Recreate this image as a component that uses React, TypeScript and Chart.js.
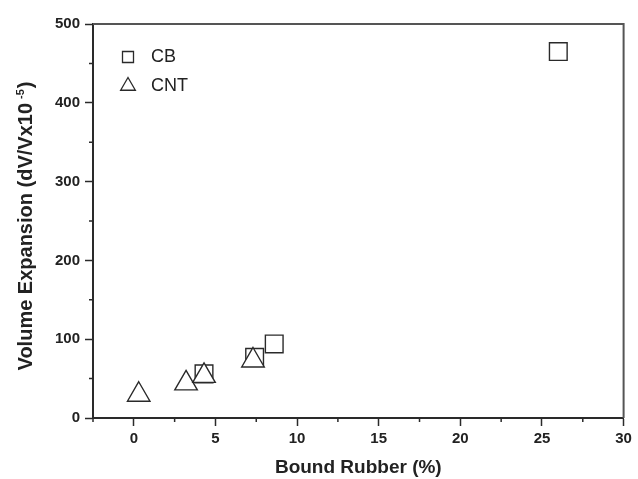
import React, { useEffect, useRef } from "react";
import { Chart, registerables } from "chart.js";

Chart.register(...registerables);

const cbX = [4.3, 7.4, 8.6, 26.0];
const cbY = [56, 77, 94, 465];
const cntX = [0.3, 3.2, 4.3, 7.3];
const cntY = [29.5, 44, 53.5, 73];

const xMajorTicks = [0, 5, 10, 15, 20, 25, 30];
const xMinorTicks = [-2.5, 2.5, 7.5, 12.5, 17.5, 22.5, 27.5];
const yMajorTicks = [0, 100, 200, 300, 400, 500];
const yMinorTicks = [50, 150, 250, 350, 450];

const legendLabels = ["CB", "CNT"];
const xTitle = "Bound Rubber (%)";
const yTitleMain = "Volume Expansion (dV/Vx10";
const yTitleSup = "-5";
const yTitleEnd = ")";

const FONT = "'Liberation Sans', Arial, sans-serif";
const INK = "#2a2a2a";

const framePlugin = {
  id: "frame",
  afterDraw(chart: any) {
    const { ctx, chartArea } = chart;
    const { left, right, top, bottom } = chartArea;
    ctx.save();
    ctx.strokeStyle = "#555";
    ctx.lineWidth = 2;
    ctx.beginPath();
    ctx.moveTo(left, top);
    ctx.lineTo(right, top);
    ctx.lineTo(right, bottom);
    ctx.stroke();
    // minor ticks
    ctx.strokeStyle = INK;
    ctx.lineWidth = 1.5;
    const xs = chart.scales.x;
    const ys = chart.scales.y;
    ctx.beginPath();
    xMinorTicks.forEach((v) => {
      const px = xs.getPixelForValue(v);
      ctx.moveTo(px, bottom);
      ctx.lineTo(px, bottom + 4);
    });
    yMinorTicks.forEach((v) => {
      const py = ys.getPixelForValue(v);
      ctx.moveTo(left, py);
      ctx.lineTo(left - 4, py);
    });
    ctx.stroke();
    // x tick labels
    ctx.fillStyle = "#222";
    ctx.font = `bold 15px ${FONT}`;
    ctx.textAlign = "center";
    ctx.textBaseline = "top";
    xMajorTicks.forEach((v) => {
      ctx.fillText(String(v), xs.getPixelForValue(v), bottom + 13);
    });
    // legend
    const lx = left + 35;
    ctx.strokeStyle = INK;
    ctx.lineWidth = 1.3;
    ctx.fillStyle = "#fff";
    const y1 = top + 33;
    const y2 = top + 62;
    ctx.beginPath();
    ctx.rect(lx - 5.5, y1 - 5.5, 11, 11);
    ctx.fill();
    ctx.stroke();
    const r = 8.5;
    ctx.beginPath();
    ctx.moveTo(lx, y2 - r);
    ctx.lineTo(lx + r * 0.866, y2 + r * 0.5);
    ctx.lineTo(lx - r * 0.866, y2 + r * 0.5);
    ctx.closePath();
    ctx.fill();
    ctx.stroke();
    ctx.fillStyle = "#222";
    ctx.font = `18px ${FONT}`;
    ctx.textBaseline = "middle";
    ctx.textAlign = "left";
    ctx.fillText(legendLabels[0], lx + 23, y1);
    ctx.fillText(legendLabels[1], lx + 23, y2);

    // y title with superscript
    const mainFont = `bold 20px ${FONT}`;
    const supFont = `bold 11px ${FONT}`;
    ctx.font = mainFont;
    const w1 = ctx.measureText(yTitleMain).width;
    const w3 = ctx.measureText(yTitleEnd).width;
    ctx.font = supFont;
    const gap = 4;
    const w2 = ctx.measureText(yTitleSup).width;
    const total = w1 + gap + w2 + 1 + w3;
    const cy = (top + bottom) / 2 + 5;
    ctx.translate(25, cy);
    ctx.rotate(-Math.PI / 2);
    ctx.textBaseline = "alphabetic";
    const base = 7;
    let x = -total / 2;
    ctx.font = mainFont;
    ctx.fillText(yTitleMain, x, base);
    x += w1 + gap;
    ctx.font = supFont;
    ctx.fillText(yTitleSup, x, base - 8);
    x += w2 + 1;
    ctx.font = mainFont;
    ctx.fillText(yTitleEnd, x, base);
    ctx.restore();
  },
};

export default function App() {
  const ref = useRef<HTMLCanvasElement>(null);
  useEffect(() => {
    document.body.style.margin = "0";
    const canvas = ref.current!;
    const chart = new Chart(canvas, {
      type: "scatter",
      data: {
        datasets: [
          {
            label: legendLabels[0],
            data: cbX.map((x, i) => ({ x, y: cbY[i] })),
            pointStyle: "rect",
            pointRadius: 12.5,
            pointHoverRadius: 12.5,
            borderColor: INK,
            backgroundColor: "#fff",
            borderWidth: 1.4,
            order: 1,
          },
          {
            label: legendLabels[1],
            data: cntX.map((x, i) => ({ x, y: cntY[i] })),
            pointStyle: "triangle",
            pointRadius: 13,
            pointHoverRadius: 13,
            borderColor: INK,
            backgroundColor: "#fff",
            borderWidth: 1.4,
            order: 0,
          },
        ],
      },
      options: {
        animation: false,
        responsive: false,
        maintainAspectRatio: false,
        layout: { padding: { top: 24, right: 10, left: 0, bottom: 0 } },
        plugins: { legend: { display: false }, tooltip: { enabled: false } },
        scales: {
          x: {
            type: "linear",
            min: -2.5,
            max: 30,
            afterBuildTicks: (s: any) => {
              s.ticks = xMajorTicks.map((v) => ({ value: v }));
            },
            afterFit: (s: any) => {
              s.height = 61;
            },
            border: { color: INK, width: 2 },
            grid: {
              drawOnChartArea: false,
              drawTicks: true,
              tickLength: 8,
              tickColor: INK,
              tickWidth: 1.5,
            },
            ticks: { display: false },
            title: {
              display: true,
              text: xTitle,
              color: "#222",
              font: { family: FONT, size: 19, weight: "bold" },
              padding: { top: 6, bottom: 0 },
            },
          },
          y: {
            type: "linear",
            min: 0,
            max: 500,
            afterBuildTicks: (s: any) => {
              s.ticks = yMajorTicks.map((v) => ({ value: v }));
            },
            afterFit: (s: any) => {
              s.width = 93;
            },
            border: { color: INK, width: 2 },
            grid: {
              drawOnChartArea: false,
              drawTicks: true,
              tickLength: 8,
              tickColor: INK,
              tickWidth: 1.5,
            },
            ticks: {
              color: "#222",
              font: { family: FONT, size: 15, weight: "bold" },
              padding: 5,
            },
            title: { display: false },
          },
        },
      },
      plugins: [framePlugin],
    });
    return () => chart.destroy();
  }, []);
  return (
    <div style={{ width: 638, height: 479, background: "#fff" }}>
      <canvas ref={ref} width={638} height={479} style={{ display: "block" }} />
    </div>
  );
}
